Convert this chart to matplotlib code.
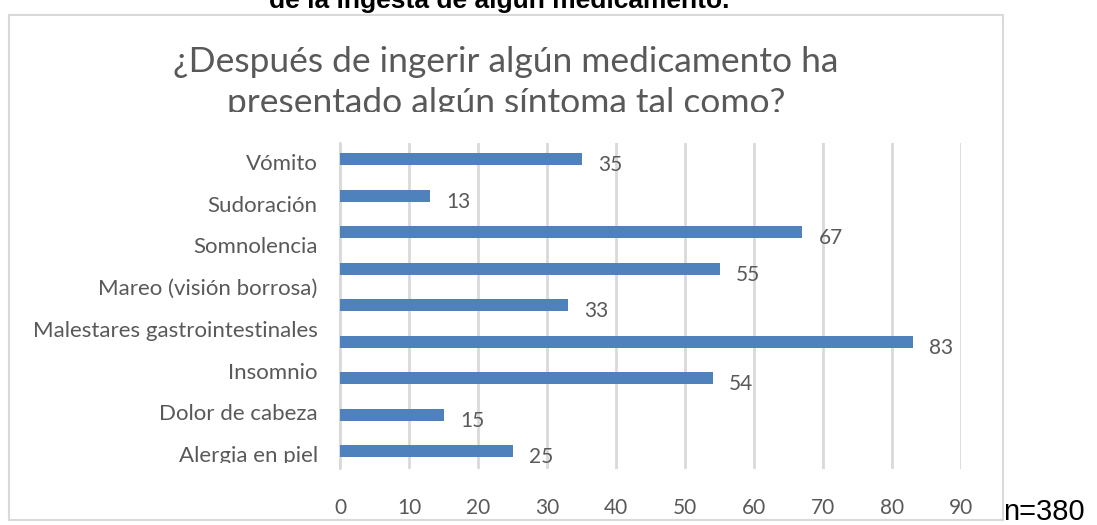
import numpy as np
import matplotlib
matplotlib.use("Agg")
import matplotlib.pyplot as plt
from matplotlib.patches import Rectangle

# ---- data ----
bar_values = [35, 13, 67, 55, 33, 83, 54, 15, 25]
category_labels = ["Vómito", "Sudoración", "Somnolencia", "Mareo (visión borrosa)",
                   "Malestares gastrointestinales", "Insomnio", "Dolor de cabeza",
                   "Alergia en piel"]
x_ticks = [0, 10, 20, 30, 40, 50, 60, 70, 80, 90]
title_lines = ["¿Después de ingerir algún medicamento ha",
               "presentado algún síntoma tal como?"]
caption_top = "de la ingesta de algún medicamento."
sample_note = "n=380"

W, H = 1097, 525
TXT = "#595959"
BAR = "#4f81bd"
GRID = "#d9d9d9"
FONT = ["Lato", "DejaVu Sans"]

fig = plt.figure(figsize=(W / 100, H / 100), dpi=100)

def fx(px):
    return px / W

def fy(py):
    return 1 - py / H

# chart frame
fig.patches.append(Rectangle((fx(9), fy(520)), fx(1003) - fx(9), fy(15) - fy(520),
                             transform=fig.transFigure, fill=False,
                             edgecolor=GRID, lw=1.5, zorder=0))

ax = fig.add_axes([fx(340), fy(469), fx(961) - fx(340), fy(143) - fy(469)])
ypos = np.arange(len(bar_values))
ax.barh(ypos, bar_values, height=0.33, color=BAR, zorder=3)
ax.set_xlim(0, 90)
ax.set_ylim(len(bar_values) - 1 + 0.49, -0.44)

ax.set_xticks(x_ticks)
ax.set_xticklabels([str(t) for t in x_ticks], color=TXT, fontsize=15, family=FONT)
ax.tick_params(axis="x", length=0, pad=21)
ax.grid(axis="x", color=GRID, lw=2, zorder=0)
ax.set_axisbelow(True)

label_pos = np.linspace(0, len(bar_values) - 1, len(category_labels)) + 0.08
ax.set_yticks(label_pos)
ax.set_yticklabels(category_labels, color=TXT, fontsize=16, family=FONT)
ax.tick_params(axis="y", length=0, pad=16)

for s in ["top", "right", "bottom"]:
    ax.spines[s].set_visible(False)
ax.spines["left"].set_color(GRID)
ax.spines["left"].set_linewidth(1.5)

for y, v in zip(ypos, bar_values):
    ax.annotate(str(v), (v, y), xytext=(12, -4.3), textcoords="offset points",
                ha="left", va="center", fontsize=15, color=TXT, family=FONT)

# title (second line cut off in the source)
fig.text(fx(506), fy(72), title_lines[0], ha="center", va="baseline",
         fontsize=25.5, color=TXT, family=FONT)
fig.text(fx(506), fy(113), title_lines[1], ha="center", va="baseline",
         fontsize=25.5, color=TXT, family=FONT)
fig.patches.append(Rectangle((fx(150), fy(140)), fx(860) - fx(150), fy(112) - fy(140),
                             transform=fig.transFigure, facecolor="white",
                             edgecolor="none", zorder=10))
# bottom label cut off
fig.patches.append(Rectangle((fx(14), fy(472)), fx(336) - fx(14), fy(463) - fy(472),
                             transform=fig.transFigure, facecolor="white",
                             edgecolor="none", zorder=10))

fig.text(fx(499), fy(8), caption_top, ha="center", va="baseline",
         fontsize=19, fontweight="bold", color="black", family="Liberation Sans")
fig.text(fx(1003), fy(520), sample_note, ha="left", va="baseline",
         fontsize=21, color="black", family="Liberation Sans")

fig.savefig("out.png", dpi=100, facecolor="white")
